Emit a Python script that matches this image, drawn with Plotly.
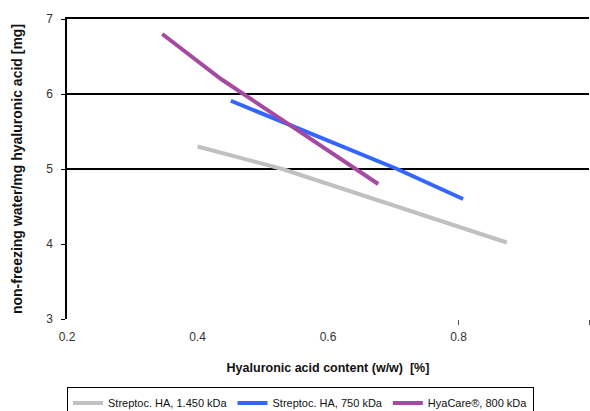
import plotly.graph_objects as go

# Data
gray_x = [0.40, 0.53, 0.874]
gray_y = [5.30, 5.00, 4.02]
blue_x = [0.451, 0.706, 0.807]
blue_y = [5.91, 5.00, 4.60]
mag_x = [0.346, 0.436, 0.677]
mag_y = [6.80, 6.20, 4.80]

names = ["Streptoc. HA, 1.450 kDa", "Streptoc. HA, 750 kDa", "HyaCare\u00ae, 800 kDa"]
colors = ["#c0c0c0", "#3366ff", "#a54aa0"]
x_ticks = [0.2, 0.4, 0.6, 0.8, 1.0]
x_tick_text = ["0.2", "0.4", "0.6", "0.8", "1"]
y_ticks = [3, 4, 5, 6, 7]
grid_vals = [5, 6, 7]

FONT = "Liberation Sans, Arial, sans-serif"

fig = go.Figure()
for xs, ys, nm, c in zip([gray_x, blue_x, mag_x], [gray_y, blue_y, mag_y], names, colors):
    fig.add_trace(go.Scatter(x=xs, y=ys, mode="lines", name=nm,
                             line=dict(color=c, width=4)))

# invisible traces to activate overlay axes
fig.add_trace(go.Scatter(x=[None], y=[None], xaxis="x2", yaxis="y2",
                         showlegend=False, hoverinfo="skip"))
fig.add_trace(go.Scatter(x=[None], y=[None], xaxis="x3", yaxis="y2",
                         showlegend=False, hoverinfo="skip"))

fig.update_layout(
    width=590, height=411,
    margin=dict(l=67, r=1, t=19, b=92, autoexpand=False),
    paper_bgcolor="white", plot_bgcolor="white",
    font=dict(family=FONT, size=12, color="#222"),
    xaxis=dict(range=[0.2, 1.0], tickvals=x_ticks, ticktext=x_tick_text,
               showgrid=False, zeroline=False, showline=False, ticks="",
               automargin=False, ticklabelstandoff=9,
               tickfont=dict(size=12, color="#333"),
               title=dict(text="<b>Hyaluronic acid content (w/w)  [%]</b>",
                          font=dict(size=12.5, color="#111"), standoff=20)),
    yaxis=dict(range=[3, 7], tickvals=y_ticks, showgrid=False, zeroline=False,
               showline=True, linecolor="black", linewidth=1.5,
               ticks="outside", ticklen=4, tickcolor="black",
               automargin=False, ticklabelstandoff=6,
               tickfont=dict(size=12, color="#333"),
               title=dict(text="<b>non-freezing water/mg hyaluronic acid [mg]</b>",
                          font=dict(size=14, color="#111"), standoff=20)),
    xaxis2=dict(overlaying="x", range=[0.2, 1.0], tickvals=[0.8, 1.0],
                showticklabels=False, ticks="outside", ticklen=5,
                tickcolor="#555", showgrid=False, zeroline=False, showline=False,
                side="bottom", anchor="y2", automargin=False),
    xaxis3=dict(overlaying="x", range=[0.2, 1.0], showticklabels=False,
                ticks="", showgrid=False, zeroline=False, showline=True,
                linecolor="black", linewidth=1.5, side="top", anchor="y2",
                automargin=False),
    yaxis2=dict(overlaying="y", range=[3, 7], tickvals=grid_vals,
                showticklabels=False, showgrid=True, gridcolor="black",
                gridwidth=1.5, zeroline=False, showline=False, ticks="",
                automargin=False),
    legend=dict(orientation="h", x=0, xanchor="left", y=-0.228, yanchor="top",
                bordercolor="black", borderwidth=1, bgcolor="white",
                font=dict(size=11, color="#111"), itemwidth=30,
                tracegroupgap=0),
    showlegend=True,
)

fig.write_html("out.html", config={"displayModeBar": False},
               post_script="document.body.style.margin='0';document.body.style.overflow='hidden';")
